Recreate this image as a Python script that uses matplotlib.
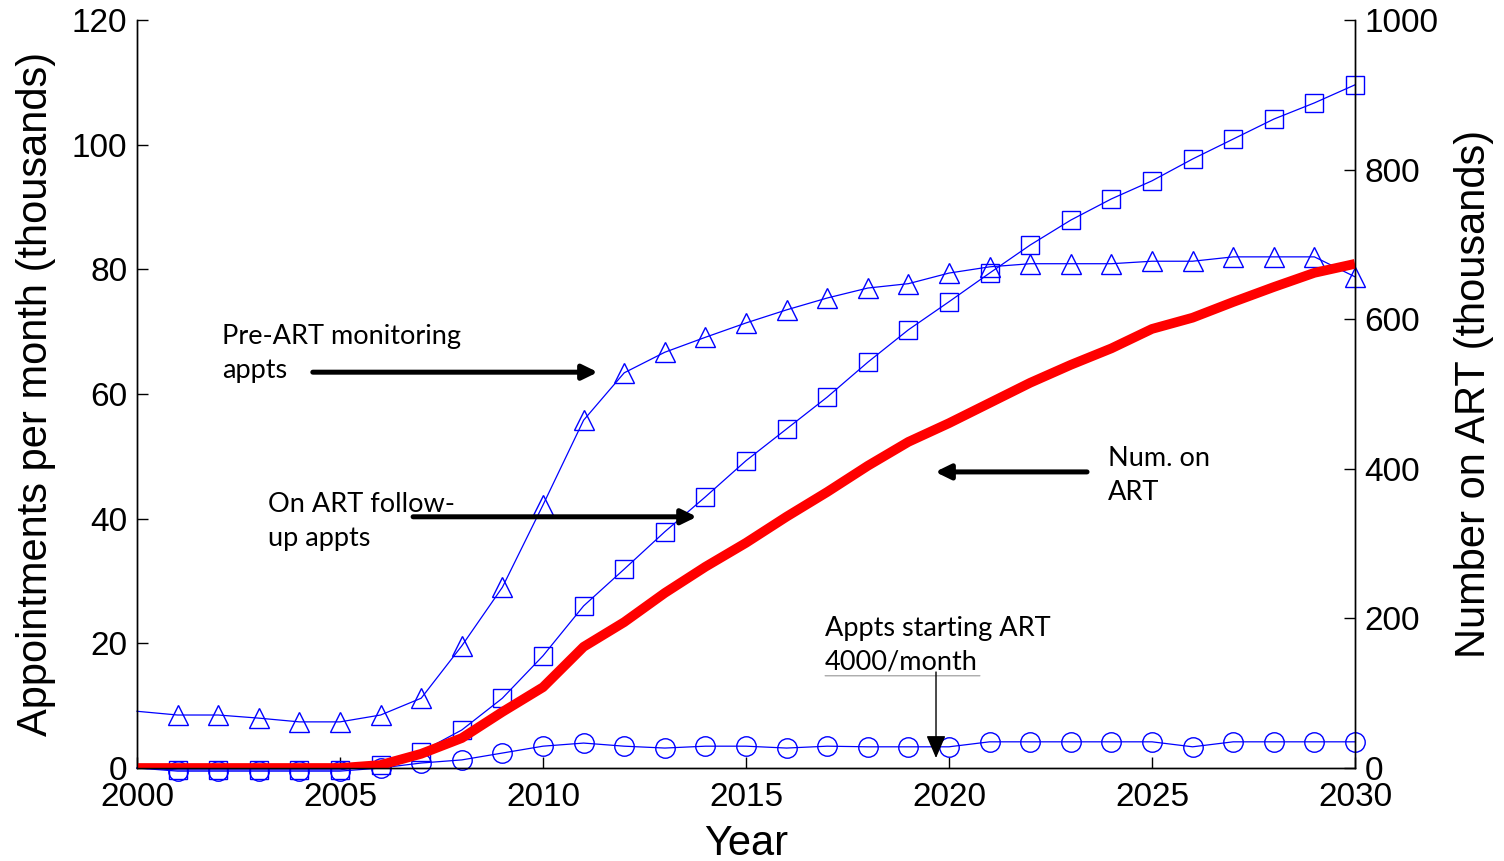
import matplotlib
matplotlib.use("Agg")
import matplotlib.pyplot as plt

years = list(range(2000, 2031))

# appointments per month (thousands), left axis
pre_art_appts = [9.1, 8.5, 8.5, 8.0, 7.4, 7.4, 8.5, 11.2, 19.6, 29.0, 42.2,
                 55.8, 63.4, 66.7, 69.1, 71.4, 73.5, 75.4, 77.0, 77.7, 79.4,
                 80.4, 80.9, 80.9, 80.9, 81.3, 81.3, 82.0, 82.0, 82.0, 78.8]
followup_appts = [0.0, -0.3, -0.3, -0.3, -0.3, -0.3, 0.5, 2.6, 6.1, 11.2, 18.0,
                  26.0, 31.9, 37.9, 43.5, 49.3, 54.4, 59.5, 65.1, 70.3, 74.8,
                  79.4, 83.9, 87.9, 91.3, 94.2, 97.7, 100.9, 104.1, 106.7, 109.6]
starting_appts = [0.0, -0.5, -0.5, -0.5, -0.5, -0.5, 0.0, 0.8, 1.3, 2.4, 3.5,
                  4.0, 3.5, 3.2, 3.5, 3.5, 3.2, 3.5, 3.4, 3.4, 3.4,
                  4.2, 4.2, 4.2, 4.2, 4.2, 3.4, 4.2, 4.2, 4.2, 4.2]

# number on ART (thousands), right axis
num_on_art = [0, 0, 0, 0, 0, 0, 4, 19, 40, 75, 108,
              162, 195, 234, 269, 301, 336, 369, 404, 436, 461,
              488, 515, 539, 561, 587, 602, 623, 643, 662, 674]

x_ticks = [2000, 2005, 2010, 2015, 2020, 2025, 2030]
left_ticks = [0, 20, 40, 60, 80, 100, 120]
right_ticks = [0, 200, 400, 600, 800, 1000]

tick_font = ["Liberation Sans Narrow", "Liberation Sans"]
note_font = ["Lato", "DejaVu Sans"]

fig = plt.figure(figsize=(15.04, 8.61), dpi=100)
ax = fig.add_axes([137 / 1504, 1 - 768 / 861, (1355 - 137) / 1504, (768 - 20) / 861])
ax2 = ax.twinx()

blue = "#0000ff"
ax.plot(years, pre_art_appts, color=blue, lw=0.9, marker="^", ms=15, mfc="none",
        mec=blue, mew=1.0, markevery=slice(1, None), clip_on=False)
ax.plot(years, followup_appts, color=blue, lw=0.9, marker="s", ms=13, mfc="none",
        mec=blue, mew=1.0, markevery=slice(1, None), clip_on=False)
ax.plot(years, starting_appts, color=blue, lw=0.9, marker="o", ms=14, mfc="none",
        mec=blue, mew=1.0, markevery=slice(1, None), clip_on=False)
ax2.plot(years, num_on_art, color="#ff0000", lw=7, solid_capstyle="butt")

ax.set_xlim(2000, 2030)
ax.set_ylim(0, 120)
ax2.set_ylim(0, 1000)
ax.set_xticks(x_ticks)
ax.set_yticks(left_ticks)
ax2.set_yticks(right_ticks)

for a in (ax, ax2):
    a.spines["top"].set_visible(False)
    for s in ("left", "right", "bottom"):
        a.spines[s].set_linewidth(1.0)
ax.tick_params(axis="x", direction="in", length=8, width=1, pad=10, labelsize=24, top=False)
ax.tick_params(axis="y", direction="in", length=8, width=1, pad=7, labelsize=24, right=False)
ax2.tick_params(axis="y", direction="in", length=8, width=1, pad=7, labelsize=24)
for lbl in ax.get_xticklabels() + ax.get_yticklabels() + ax2.get_yticklabels():
    lbl.set_family(tick_font)

ax.set_xlabel("Year", fontsize=30, family=tick_font, labelpad=8)
ax.set_ylabel("Appointments per month (thousands)", fontsize=30, family=tick_font, labelpad=11)
ax2.set_ylabel("Number on ART (thousands)", fontsize=30, family=tick_font, labelpad=11)

# annotations
big_arrow = dict(arrowstyle="-|>,head_length=0.45,head_width=0.22", color="black",
                 lw=3.6, mutation_scale=20, shrinkA=0, shrinkB=0)
note_kw = dict(fontsize=19.5, family=note_font, va="top", ha="left", linespacing=1.45)

ax.text(2002.09, 71.2, "Pre-ART monitoring\nappts", **note_kw)
ax.annotate("", xy=(2011.35, 63.5), xytext=(2004.33, 63.5), arrowprops=big_arrow)

ax.text(2003.23, 44.3, "On ART follow-\nup appts", **note_kw)
ax.annotate("", xy=(2013.79, 40.3), xytext=(2006.80, 40.3), arrowprops=big_arrow)

ax.text(2023.92, 51.6, "Num. on\nART", **note_kw)
ax.annotate("", xy=(2019.66, 47.5), xytext=(2023.40, 47.5), arrowprops=big_arrow)

ax.text(2016.95, 24.4, "Appts starting ART\n4000/month", **note_kw)
ax.annotate("", xy=(2020.76, 14.8), xytext=(2016.95, 14.8),
            arrowprops=dict(arrowstyle="-", color="#aaaaaa", lw=1, shrinkA=0, shrinkB=0))
ax.annotate("", xy=(2019.68, 1.6), xytext=(2019.68, 15.4),
            arrowprops=dict(arrowstyle="-|>,head_length=0.7,head_width=0.3", color="black",
                            lw=1, mutation_scale=20, shrinkA=0, shrinkB=0))

fig.savefig("out.png", dpi=100)
